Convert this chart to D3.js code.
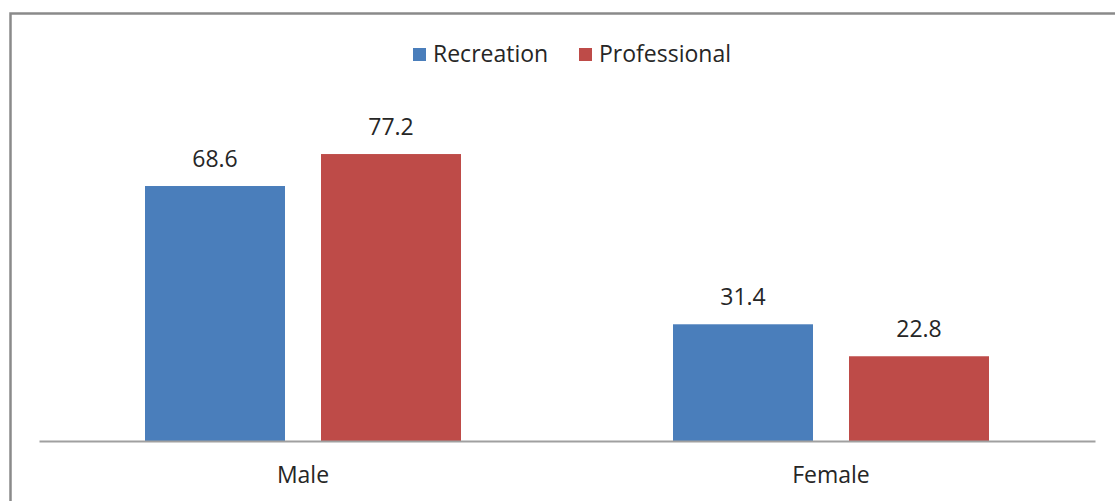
<!DOCTYPE html>
<html><head><meta charset="utf-8">
<script src="https://cdn.jsdelivr.net/npm/d3@7"></script>
<style>html,body{margin:0;padding:0;background:#fff;}svg{display:block;}</style>
</head><body>
<svg id="chart" width="1115" height="501"></svg>
<script>
const categories = ["Male", "Female"];
const seriesNames = ["Recreation", "Professional"];
const recreation = [68.6, 31.4];
const professional = [77.2, 22.8];
const colors = ["#4a7ebb", "#be4b48"];

const svg = d3.select("#chart");
const font = "'Open Sans', sans-serif";
const fs = 23;

// chart border
svg.append("rect").attr("x", 10.5).attr("y", 13.5).attr("width", 1120).attr("height", 520)
  .attr("fill", "#fff").attr("stroke", "#8a8a8a").attr("stroke-width", 2.5);

const x0 = d3.scaleBand().domain(categories).range([39, 1095]).paddingInner(0).paddingOuter(0);
const groupPad = 106;
const x1 = d3.scaleBand().domain(seriesNames).range([groupPad, x0.bandwidth() - groupPad]).paddingInner(36/176).paddingOuter(0);
const y = d3.scaleLinear().domain([0, 100]).range([441, 441 - 371.7]);

const data = categories.map((c, i) => ({cat: c, vals: [
  {s: seriesNames[0], v: recreation[i], c: colors[0]},
  {s: seriesNames[1], v: professional[i], c: colors[1]}
]}));

const g = svg.selectAll("g.cat").data(data).enter().append("g").attr("class", "cat")
  .attr("transform", d => `translate(${x0(d.cat)},0)`);

g.selectAll("rect").data(d => d.vals).enter().append("rect")
  .attr("x", d => x1(d.s)).attr("width", x1.bandwidth())
  .attr("y", d => y(d.v)).attr("height", d => y(0) - y(d.v))
  .attr("fill", d => d.c);

g.selectAll("text.lbl").data(d => d.vals).enter().append("text").attr("class", "lbl")
  .attr("x", d => x1(d.s) + x1.bandwidth()/2).attr("y", d => y(d.v) - 19)
  .attr("text-anchor", "middle").attr("font-family", font).attr("font-size", fs)
  .attr("fill", "#262626").text(d => d.v.toFixed(1));

// x axis
const axis = svg.append("g").attr("transform", `translate(0,${y(0)})`)
  .call(d3.axisBottom(x0).tickSize(0).tickPadding(0));
axis.select(".domain").attr("stroke", "#a0a0a0").attr("stroke-width", 2);
axis.selectAll(".tick text").attr("font-family", font).attr("font-size", fs)
  .attr("fill", "#262626").attr("dy", null).attr("y", 42);

// legend
const legendX = [413, 579];
const leg = svg.selectAll("g.leg").data(seriesNames).enter().append("g").attr("class", "leg")
  .attr("transform", (d, i) => `translate(${legendX[i]},48)`);
leg.append("rect").attr("width", 13).attr("height", 13).attr("fill", (d, i) => colors[i]);
leg.append("text").attr("x", 20).attr("y", 14).attr("font-family", font).attr("font-size", fs)
  .attr("fill", "#262626").text(d => d);
</script>
</body></html>
